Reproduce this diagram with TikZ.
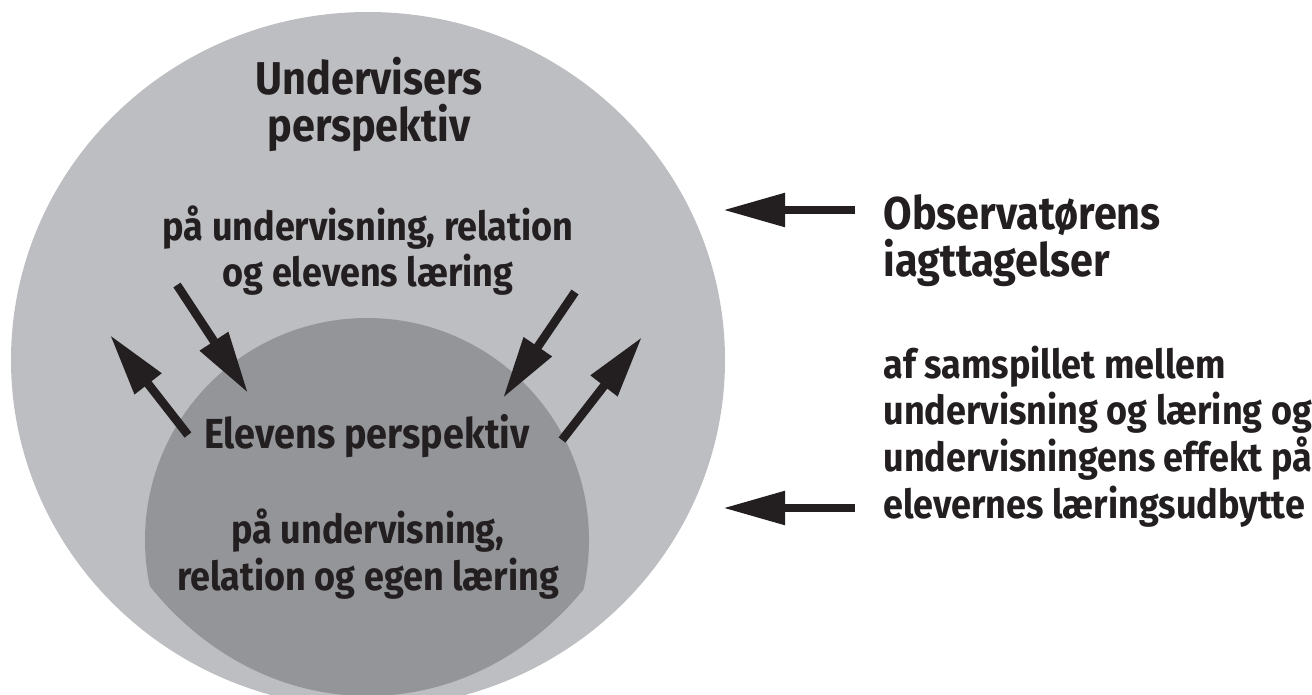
\documentclass[tikz,border=0pt]{standalone}
\usepackage{fontspec}
\setmainfont{Fira Sans}[FakeStretch=0.9]
\usetikzlibrary{arrows.meta}
\definecolor{outergray}{RGB}{189,190,194}
\definecolor{innergray}{RGB}{148,149,153}
\definecolor{ink}{RGB}{35,31,32}

\begin{document}
\begin{tikzpicture}[x=0.5pt,y=-0.5pt,
hd/.style={font=\fontsize{23}{23.5}\selectfont\bfseries,text=ink,align=center,inner sep=0pt},
bd/.style={font=\fontsize{20}{23.5}\selectfont\bfseries,text=ink,align=center,inner sep=0pt},
ar/.style={draw=ink,line width=4.3pt,-{Triangle[length=31pt,width=16pt]}}]
\useasboundingbox (0,0) rectangle (1312,695);
\fill[outergray] (368,360) ellipse [x radius=357, y radius=348];
\begin{scope}
\clip (368,360) ellipse [x radius=295, y radius=336];
\fill[innergray] (367,540) circle [radius=222];
\end{scope}
\node[hd,anchor=base] (teacher) at (369,142) {Undervisers\\perspektiv};
\node[bd,anchor=base] (teacherview) at (368,287) {på undervisning, relation\\og elevens læring};
\node[hd,anchor=base,font=\fontsize{21}{23.5}\selectfont\bfseries] (pupil) at (367,448) {Elevens perspektiv};
\node[bd,anchor=base] (pupilview) at (368,590) {på undervisning,\\relation og egen læring};
\node[hd,anchor=base west,align=left] (observer) at (883,277) {Observatørens\\iagttagelser};
\node[bd,anchor=base west,align=left,font=\fontsize{20}{23.3}\selectfont\bfseries] (interplay) at (883,518)
  {af samspillet mellem\\undervisning og læring og\\undervisningens effekt på\\elevernes læringsudbytte};
\coordinate (inLa) at (177,285);
\coordinate (inLb) at (248,393);
\coordinate (outLa) at (188,435);
\coordinate (outLb) at (110,335);
\coordinate (inRa) at (575,292);
\coordinate (inRb) at (503,398);
\coordinate (outRa) at (562,440);
\coordinate (outRb) at (642,337);
\coordinate (obsA) at (855,210);
\coordinate (obsB) at (723,210);
\coordinate (obsC) at (855,508);
\coordinate (obsD) at (723,508);
\draw[ar] (inLa) -- (inLb);
\draw[ar] (outLa) -- (outLb);
\draw[ar] (inRa) -- (inRb);
\draw[ar] (outRa) -- (outRb);
\draw[ar] (obsA) -- (obsB);
\draw[ar] (obsC) -- (obsD);
\end{tikzpicture}
\end{document}
